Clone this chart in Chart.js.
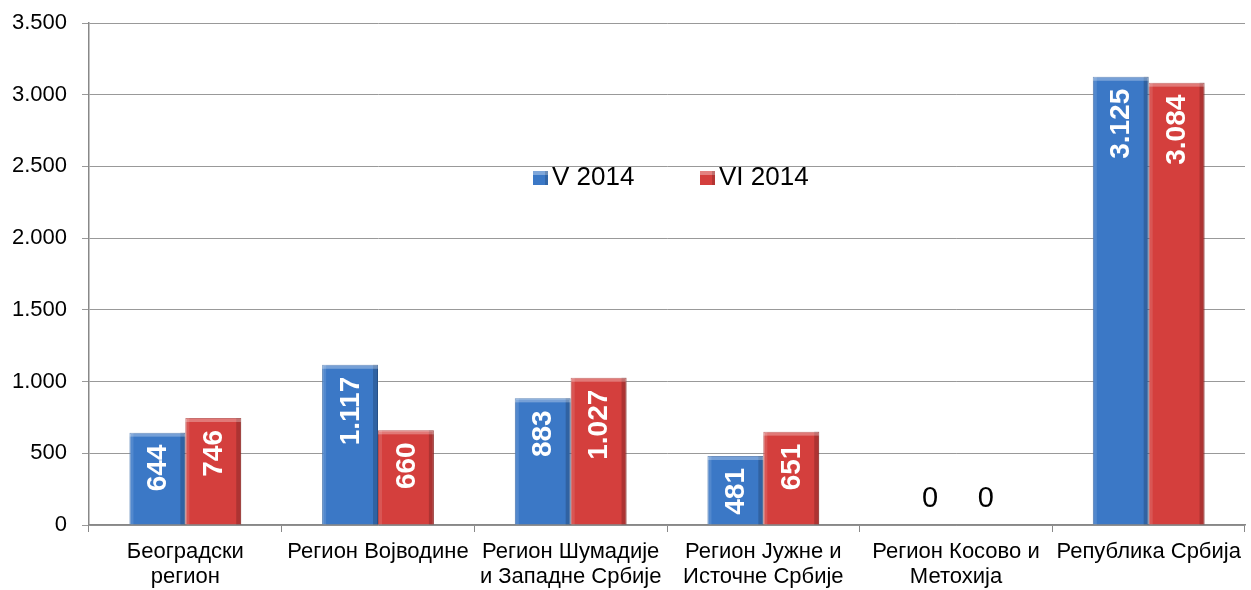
<!DOCTYPE html>
<html>
<head>
<meta charset="utf-8">
<script src="https://cdn.jsdelivr.net/npm/chart.js@4.4.0/dist/chart.umd.min.js"></script>
<style>
  body { margin: 0; background: #fff; }
  #wrap { width: 1251px; height: 590px; }
</style>
</head>
<body>
<div id="wrap"><canvas id="myChart" width="1251" height="590"></canvas></div>
<script>
const categories = [
  ["Београдски", "регион"],
  ["Регион Војводине"],
  ["Регион Шумадије", "и Западне Србије"],
  ["Регион Јужне и", "Источне Србије"],
  ["Регион Косово и", "Метохија"],
  ["Република Србија"]
];
const seriesNames = ["V 2014", "VI 2014"];
const valuesMay = [644, 1117, 883, 481, 0, 3125];
const valuesJune = [746, 660, 1027, 651, 0, 3084];
const yTicks = [0, 500, 1000, 1500, 2000, 2500, 3000, 3500];

const FONT = "'Liberation Sans', Arial, sans-serif";
const blue = "#3b78c6";
const red = "#d43f3d";

function fmt(v) {
  return v.toString().replace(/\B(?=(\d{3})+(?!\d))/g, ".");
}

// bevel look + value labels
const barDecor = {
  id: "barDecor",
  afterDatasetsDraw(chart) {
    const c = chart.ctx;
    chart.data.datasets.forEach((ds, i) => {
      const meta = chart.getDatasetMeta(i);
      meta.data.forEach((bar, j) => {
        const v = ds.data[j];
        const w = bar.width;
        const left = bar.x - w / 2;
        const h = bar.base - bar.y;
        c.save();
        if (h > 4) {
          c.fillStyle = "rgba(0,0,0,0.18)";
          c.fillRect(left + w - 5, bar.y, 5, h);
          c.fillStyle = "rgba(255,255,255,0.12)";
          c.fillRect(left, bar.y, 4, h);
          c.fillStyle = "rgba(255,255,255,0.3)";
          c.fillRect(left, bar.y, w, 4);
        }
        if (v > 0) {
          c.translate(bar.x, bar.y + 12);
          c.rotate(-Math.PI / 2);
          c.fillStyle = "#fff";
          c.font = "bold 28px " + FONT;
          c.textAlign = "right";
          c.textBaseline = "middle";
          c.fillText(fmt(v), 0, 1);
        } else {
          c.fillStyle = "#000";
          c.font = "29px " + FONT;
          c.textAlign = "center";
          c.textBaseline = "middle";
          c.fillText(fmt(v), bar.x + 2, bar.base - 26);
        }
        c.restore();
      });
    });
  }
};

// legend inside plot
const innerLegend = {
  id: "innerLegend",
  afterDraw(chart) {
    const c = chart.ctx;
    const items = [
      { x: 533, color: blue, text: seriesNames[0] },
      { x: 700, color: red, text: seriesNames[1] }
    ];
    c.save();
    items.forEach((it) => {
      c.fillStyle = it.color;
      c.fillRect(it.x, 171, 15, 14);
      c.fillStyle = "rgba(255,255,255,0.35)";
      c.fillRect(it.x, 171, 15, 4);
      c.fillStyle = "rgba(0,0,0,0.15)";
      c.fillRect(it.x + 12, 171, 3, 14);
      c.fillStyle = "#000";
      c.font = "26px " + FONT;
      c.textAlign = "left";
      c.textBaseline = "middle";
      c.fillText(it.text, it.x + 19, 178);
    });
    c.restore();
  }
};

const ctx = document.getElementById("myChart");
new Chart(ctx, {
  type: "bar",
  data: {
    labels: categories,
    datasets: [
      {
        label: seriesNames[0],
        data: valuesMay,
        backgroundColor: blue,
        borderColor: "#2f62a5",
        borderWidth: 1,
        categoryPercentage: 0.58,
        barPercentage: 1
      },
      {
        label: seriesNames[1],
        data: valuesJune,
        backgroundColor: red,
        borderColor: "#b0302e",
        borderWidth: 1,
        categoryPercentage: 0.58,
        barPercentage: 1
      }
    ]
  },
  options: {
    responsive: false,
    animation: false,
    layout: { padding: { top: 23, right: 6, left: 0, bottom: 0 } },
    plugins: {
      legend: { display: false },
      tooltip: { enabled: false }
    },
    scales: {
      x: {
        offset: true,
        grid: {
          offset: true,
          drawOnChartArea: false,
          drawTicks: true,
          tickLength: 7,
          color: "#888"
        },
        border: { color: "#888", width: 1.5 },
        ticks: {
          color: "#000",
          font: { family: FONT, size: 22, lineHeight: 1.14 },
          padding: 7,
          maxRotation: 0,
          autoSkip: false
        },
        afterFit(scale) { scale.height = 65; }
      },
      y: {
        min: 0,
        max: 3500,
        afterBuildTicks(scale) {
          scale.ticks = yTicks.map((v) => ({ value: v }));
        },
        grid: {
          color: "#999",
          lineWidth: 1,
          tickLength: 7
        },
        border: { color: "#888", width: 1.5 },
        ticks: {
          color: "#000",
          font: { family: FONT, size: 22 },
          padding: 15,
          callback: (v) => fmt(v)
        },
        afterFit(scale) {
          scale.width = 89;
          scale.paddingTop = 0;
          scale.paddingBottom = 0;
        }
      }
    }
  },
  plugins: [barDecor, innerLegend]
});
</script>
</body>
</html>
